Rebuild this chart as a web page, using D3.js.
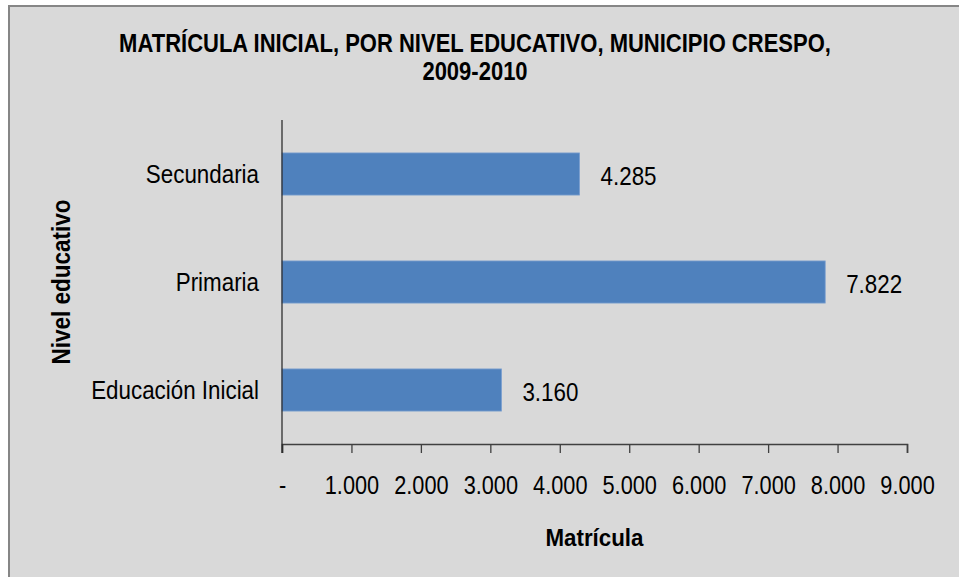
<!DOCTYPE html>
<html>
<head>
<meta charset="utf-8">
<script src="https://cdn.jsdelivr.net/npm/d3@7"></script>
<style>
html,body{margin:0;padding:0;background:#fff;}
svg{display:block;}
</style>
</head>
<body>
<svg id="chart" width="959" height="577"></svg>
<script>
const categories = ["Secundaria", "Primaria", "Educación Inicial"];
const values = [4285, 7822, 3160];
const tickValues = [0, 1000, 2000, 3000, 4000, 5000, 6000, 7000, 8000, 9000];
const titleLines = ["MATRÍCULA INICIAL, POR NIVEL EDUCATIVO, MUNICIPIO CRESPO,", "2009-2010"];
const xTitle = "Matrícula";
const yTitle = "Nivel educativo";

const FONT = "'Liberation Sans', Arial, Helvetica, sans-serif";
const svg = d3.select("#chart");
const W = 959, H = 577;

// condense text horizontally (narrow face look)
function condense(sel, f) {
  sel.each(function () {
    const w = this.getComputedTextLength();
    d3.select(this).attr("textLength", w * f).attr("lengthAdjust", "spacingAndGlyphs");
  });
}

// chart area background + border
svg.append("rect").attr("x", 9).attr("y", 6).attr("width", W + 10).attr("height", H + 10)
  .attr("fill", "#d9d9d9").attr("stroke", "#868686").attr("stroke-width", 2);

const plot = {left: 282, right: 907, top: 120, bottom: 444};

const x = d3.scaleLinear().domain([0, 9000]).range([plot.left, plot.right]);
const y = d3.scaleBand().domain(categories).range([plot.top, plot.bottom]).paddingInner(0.61).paddingOuter(0.305);

const fmt = v => v === 0 ? "-" : d3.format(",")(v).replace(/,/g, ".");

// title
const title = svg.append("text").attr("x", 475).attr("y", 52)
  .attr("text-anchor", "middle").attr("font-family", FONT).attr("font-weight", "bold")
  .attr("font-size", 25).attr("fill", "#000");
titleLines.forEach((t, i) => {
  title.append("tspan").attr("x", 475).attr("y", 52 + i * 28).text(t);
});
condense(title.selectAll("tspan"), 0.88);

// bars
svg.append("g").selectAll("rect").data(categories).join("rect")
  .attr("x", x(0))
  .attr("y", d => y(d))
  .attr("width", (d, i) => x(values[i]) - x(0))
  .attr("height", y.bandwidth())
  .attr("fill", "#4f81bd")
  .attr("stroke", "#7b9fd0").attr("stroke-width", 0.8);

// value labels
const vl = svg.append("g").selectAll("text").data(categories).join("text")
  .attr("x", (d, i) => x(values[i]) + 21)
  .attr("y", d => y(d) + y.bandwidth() / 2)
  .attr("dy", "0.42em")
  .attr("font-family", FONT).attr("font-size", 26).attr("fill", "#000")
  .text((d, i) => fmt(values[i]));
condense(vl, 0.86);

// x axis
const xAxis = d3.axisBottom(x).tickValues(tickValues).tickFormat(fmt).tickSize(9).tickPadding(23);
const gx = svg.append("g").attr("transform", `translate(0,${plot.bottom})`).call(xAxis);
gx.select(".domain").attr("stroke", "#404040").attr("stroke-width", 1.6);
gx.selectAll(".tick line").attr("stroke", "#404040").attr("stroke-width", 1.3);
gx.selectAll(".tick text").attr("font-family", FONT).attr("font-size", 25).attr("fill", "#000");
condense(gx.selectAll(".tick text"), 0.87);

// y axis
const yAxis = d3.axisLeft(y).tickSize(0).tickPadding(23);
const gy = svg.append("g").attr("transform", `translate(${plot.left},0)`).call(yAxis);
gy.select(".domain").remove();
gy.selectAll(".tick text").attr("font-family", FONT).attr("font-size", 26).attr("fill", "#000").attr("dy", "0.36em");
condense(gy.selectAll(".tick text"), 0.86);
svg.append("line").attr("x1", plot.left).attr("x2", plot.left)
  .attr("y1", plot.top).attr("y2", plot.bottom + 9)
  .attr("stroke", "#202020").attr("stroke-width", 1.2);

// axis titles
const xt = svg.append("text").attr("x", (plot.left + plot.right) / 2).attr("y", 546)
  .attr("text-anchor", "middle").attr("font-family", FONT).attr("font-weight", "bold")
  .attr("font-size", 24).attr("fill", "#000").text(xTitle);
condense(xt, 0.93);

const yt = svg.append("text").attr("transform", `translate(70,${(plot.top + plot.bottom) / 2}) rotate(-90)`)
  .attr("text-anchor", "middle").attr("font-family", FONT).attr("font-weight", "bold")
  .attr("font-size", 25).attr("fill", "#000").text(yTitle);
condense(yt, 0.9);
</script>
</body>
</html>
